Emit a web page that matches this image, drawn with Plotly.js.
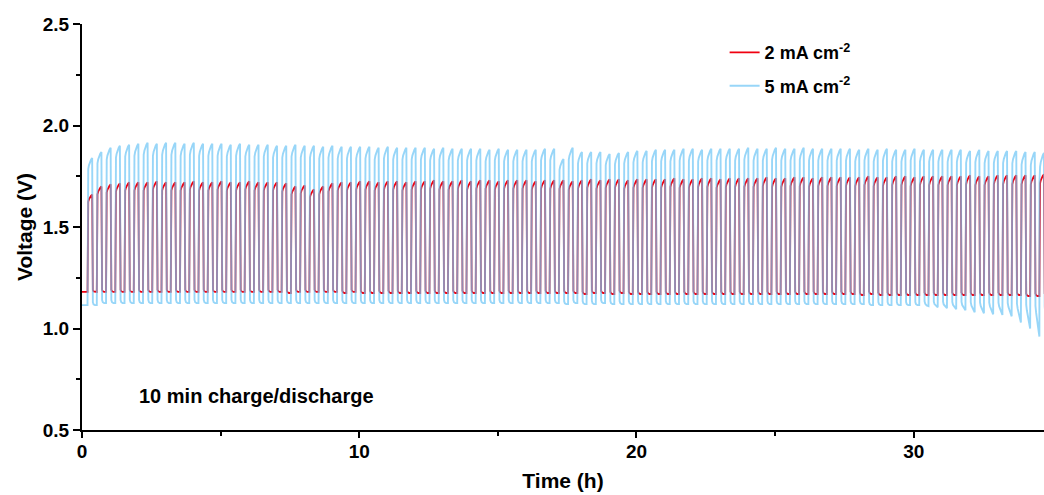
<!DOCTYPE html>
<html>
<head>
<meta charset="utf-8">
<script src="https://cdn.plot.ly/plotly-3.0.1.min.js"></script>
<style>html,body{margin:0;padding:0;background:#fff;}#chart{width:1044px;height:495px;}</style>
</head>
<body>
<div id="chart"></div>
<script>
// ---- data (one value per 20-min cycle) ----
const seriesNames = ["2 mA cm<sup>-2</sup>", "5 mA cm<sup>-2</sup>"];
const halfCycleHours = 10 / 60;      // 10 min charge / 10 min discharge
const firstChargeStart = 0.2;        // h

// peak voltage at the end of each charge
const redHi = [
1.66,1.70,1.71,1.715,1.72,1.72,1.72,1.725,1.72,1.72,
1.72,1.725,1.72,1.72,1.725,1.72,1.72,1.725,1.72,1.72,
1.72,1.715,1.70,1.705,1.685,1.70,1.715,1.72,1.72,1.725,
1.725,1.72,1.725,1.725,1.72,1.725,1.725,1.73,1.725,1.725,
1.73,1.725,1.73,1.73,1.725,1.73,1.73,1.73,1.725,1.73,
1.73,1.73,1.725,1.73,1.735,1.73,1.735,1.735,1.73,1.735,
1.735,1.735,1.735,1.74,1.735,1.735,1.74,1.74,1.735,1.74,
1.74,1.74,1.74,1.745,1.74,1.74,1.745,1.745,1.74,1.745,
1.745,1.745,1.745,1.745,1.75,1.745,1.745,1.75,1.75,1.745,
1.75,1.75,1.75,1.75,1.75,1.755,1.75,1.75,1.755,1.755,
1.755,1.755,1.755,1.76];
// discharge plateau voltage (start and end of each discharge)
const redLo = [
1.18,1.18,1.18,1.18,1.18,1.18,1.18,1.18,1.18,1.18,
1.18,1.18,1.18,1.18,1.18,1.18,1.18,1.18,1.18,1.18,
1.18,1.175,1.18,1.18,1.18,1.18,1.18,1.175,1.18,1.175,
1.175,1.175,1.175,1.175,1.175,1.175,1.175,1.175,1.175,1.175,
1.175,1.175,1.175,1.175,1.175,1.175,1.175,1.175,1.175,1.175,
1.175,1.175,1.175,1.17,1.175,1.175,1.17,1.175,1.17,1.17,
1.17,1.17,1.17,1.17,1.17,1.17,1.17,1.17,1.17,1.17,
1.17,1.17,1.17,1.17,1.17,1.17,1.17,1.17,1.17,1.17,
1.17,1.17,1.17,1.165,1.17,1.165,1.165,1.165,1.165,1.165,
1.165,1.165,1.165,1.165,1.165,1.165,1.165,1.165,1.165,1.165,
1.165,1.16,1.16,1.16];
const redEnd = redLo;

const blueHi = [
1.84,1.87,1.89,1.90,1.905,1.91,1.915,1.91,1.915,1.915,
1.91,1.915,1.91,1.91,1.91,1.905,1.91,1.905,1.905,1.905,
1.90,1.90,1.905,1.90,1.90,1.895,1.90,1.895,1.895,1.895,
1.895,1.89,1.895,1.89,1.89,1.89,1.89,1.885,1.89,1.885,
1.885,1.885,1.885,1.88,1.885,1.88,1.88,1.88,1.88,1.885,
1.885,1.835,1.89,1.87,1.87,1.87,1.86,1.865,1.87,1.875,
1.875,1.88,1.88,1.88,1.885,1.885,1.88,1.885,1.885,1.885,
1.885,1.89,1.885,1.885,1.89,1.885,1.885,1.89,1.885,1.885,
1.885,1.885,1.885,1.88,1.885,1.88,1.885,1.88,1.88,1.885,
1.88,1.88,1.88,1.88,1.88,1.875,1.88,1.875,1.875,1.875,
1.875,1.87,1.87,1.865];
const blueLo = [
1.115,1.125,1.125,1.125,1.125,1.125,1.125,1.125,1.125,1.125,
1.125,1.125,1.125,1.125,1.125,1.125,1.125,1.125,1.125,1.125,
1.125,1.125,1.125,1.125,1.125,1.125,1.125,1.125,1.125,1.125,
1.125,1.125,1.125,1.125,1.125,1.125,1.125,1.125,1.125,1.125,
1.125,1.125,1.125,1.125,1.125,1.125,1.125,1.125,1.125,1.125,
1.125,1.12,1.125,1.12,1.12,1.125,1.12,1.12,1.12,1.12,
1.12,1.12,1.12,1.12,1.12,1.12,1.12,1.12,1.12,1.12,
1.12,1.12,1.12,1.12,1.12,1.12,1.12,1.12,1.12,1.12,
1.12,1.12,1.12,1.12,1.115,1.115,1.115,1.115,1.115,1.115,
1.12,1.12,1.12,1.12,1.12,1.12,1.12,1.12,1.12,1.12,
1.12,1.12,1.12,1.12];
const blueEnd = [
1.115,1.125,1.125,1.125,1.125,1.125,1.125,1.125,1.125,1.125,
1.125,1.125,1.125,1.125,1.125,1.125,1.125,1.125,1.125,1.125,
1.125,1.125,1.125,1.125,1.125,1.125,1.125,1.125,1.125,1.125,
1.125,1.125,1.125,1.125,1.125,1.125,1.125,1.125,1.125,1.125,
1.125,1.125,1.125,1.125,1.125,1.125,1.125,1.125,1.125,1.125,
1.125,1.12,1.125,1.12,1.12,1.125,1.12,1.12,1.12,1.12,
1.12,1.12,1.12,1.12,1.12,1.12,1.12,1.12,1.12,1.12,
1.12,1.12,1.12,1.12,1.12,1.12,1.12,1.12,1.12,1.12,
1.12,1.12,1.12,1.12,1.115,1.115,1.115,1.115,1.115,1.115,
1.11,1.105,1.10,1.095,1.09,1.08,1.075,1.07,1.067,1.06,
1.03,1.00,0.96,0.94];
const redStart = 1.18, blueStart = 1.115;

// shape of one half-cycle (fraction of half-cycle, fraction of swing)
const chargeFrac  = [0, 0.02, 0.06, 0.15, 0.3, 0.5, 0.75, 1.0];
const chargeLevel = [0.02, 0.84, 0.89, 0.925, 0.95, 0.97, 0.988, 1.0];
const dischargeFrac  = [0.004, 0.02, 0.06, 0.15, 0.3, 0.6, 1.0];
const dischargeLevel = [0.3, 0.12, 0.05, 0.02, 0.006, 0.0, 0.0];

function buildSeries(hi, lo, end, startV) {
  const x = [0, firstChargeStart], y = [startV, startV];
  let prev = startV;
  for (let k = 0; k < hi.length; k++) {
    const tc = firstChargeStart + k * 2 * halfCycleHours;
    for (let i = 0; i < chargeFrac.length; i++) {
      x.push(tc + chargeFrac[i] * halfCycleHours);
      y.push(prev + chargeLevel[i] * (hi[k] - prev));
    }
    const td = tc + halfCycleHours;
    for (let i = 0; i < dischargeFrac.length; i++) {
      const f = dischargeFrac[i];
      const base = lo[k] + (end[k] - lo[k]) * f;
      x.push(td + f * halfCycleHours);
      y.push(base + dischargeLevel[i] * (hi[k] - base));
    }
    prev = end[k];
  }
  return {x, y};
}

const red = buildSeries(redHi, redLo, redEnd, redStart);
const blue = buildSeries(blueHi, blueLo, blueEnd, blueStart);

const FONT = "Liberation Sans, Arial, sans-serif";
const traces = [
  {x: red.x, y: red.y, type: "scatter", mode: "lines", name: seriesNames[0],
   legendgroup: "a", line: {color: "#f00010", width: 1.8}},
  {x: blue.x, y: blue.y, type: "scatter", mode: "lines", name: seriesNames[1],
   legendgroup: "b", opacity: 0.7, line: {color: "#6cc4f5", width: 1.9}}
];

const layout = {
  width: 1044, height: 495,
  margin: {l: 82, r: 0, t: 24, b: 65},
  paper_bgcolor: "#fff", plot_bgcolor: "#fff",
  showlegend: true,
  legend: {x: 0.668, y: 0.975, xanchor: "left", yanchor: "top", bgcolor: "rgba(0,0,0,0)",
           traceorder: "grouped", tracegroupgap: 7,
           font: {family: FONT, size: 18, weight: 700, color: "#000"}},
  xaxis: {
    range: [0, 34.7], showgrid: false, zeroline: false,
    showline: true, linecolor: "#000", linewidth: 2,
    ticks: "outside", ticklen: 6, tickwidth: 2, tickcolor: "#000",
    tick0: 0, dtick: 10, ticklabelstandoff: -3,
    minor: {ticks: "outside", ticklen: 4, tickwidth: 2, tickcolor: "#000", dtick: 5, showgrid: false},
    tickfont: {family: FONT, size: 19, weight: 700, color: "#000"},
    title: {text: "Time (h)", standoff: 13, font: {family: FONT, size: 21, weight: 700, color: "#000"}}
  },
  yaxis: {
    range: [0.5, 2.5], showgrid: false, zeroline: false,
    showline: true, linecolor: "#000", linewidth: 2,
    ticks: "outside", ticklen: 7, tickwidth: 2, tickcolor: "#000",
    tick0: 0.5, dtick: 0.5, tickformat: ".1f",
    minor: {ticks: "outside", ticklen: 4, tickwidth: 2, tickcolor: "#000", dtick: 0.25, showgrid: false},
    tickfont: {family: FONT, size: 19, weight: 700, color: "#000"},
    title: {text: "Voltage (V)", standoff: 4, font: {family: FONT, size: 21, weight: 700, color: "#000"}}
  },
  annotations: [{
    text: "10 min charge/discharge", xref: "paper", yref: "paper",
    x: 0.057, y: 0.084, xanchor: "left", yanchor: "middle", showarrow: false,
    font: {family: FONT, size: 20, weight: 700, color: "#000"}
  }]
};

Plotly.newPlot("chart", traces, layout, {staticPlot: true, displayModeBar: false});
</script>
</body>
</html>
